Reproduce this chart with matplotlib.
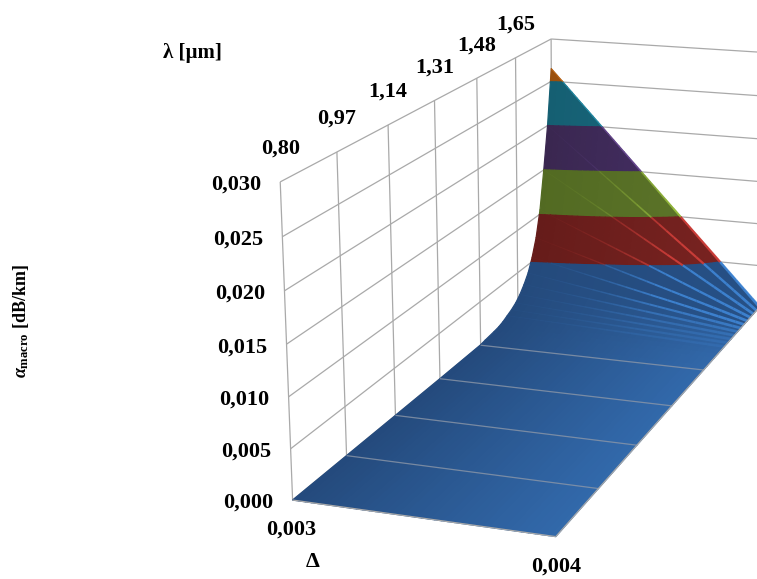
import numpy as np
import matplotlib
matplotlib.use("Agg")
from matplotlib import pyplot as plt
from matplotlib.colors import to_rgb
from mpl_toolkits.mplot3d import proj3d
from mpl_toolkits.mplot3d.art3d import Poly3DCollection, Line3DCollection

# values
wavelength = [0.80, 0.97, 1.14, 1.31, 1.48, 1.50, 1.54, 1.56, 1.58, 1.60, 1.62,
              1.64, 1.66, 1.68, 1.70, 1.72, 1.74, 1.76, 1.78, 1.80, 1.82]
alpha_d003 = [0.0, 0.0, 0.0, 0.0, 0.00005, 0.00015, 0.0003, 0.0004, 0.0006, 0.0009, 0.0012,
              0.0016, 0.0022, 0.003, 0.004, 0.0055, 0.0075, 0.0105, 0.015, 0.020, 0.0265]
alpha_d004 = [0.0] * len(wavelength)
delta_range = [0.003, 0.004]
wl_grid = [0.80, 0.97, 1.14, 1.31, 1.48, 1.65, 1.82]
wl_labels = ["0,80", "0,97", "1,14", "1,31", "1,48", "1,65"]
alpha_grid = [0.0, 0.005, 0.010, 0.015, 0.020, 0.025, 0.030]
alpha_labels = ["0,000", "0,005", "0,010", "0,015", "0,020", "0,025", "0,030"]

# colour of each 0.005 band, dark side and light side
band_dark = ["#244a7c", "#661c1a", "#526a22", "#3a2750", "#155f72", "#9a4f0c"]
band_light = ["#3269ab", "#7c2422", "#60782c", "#4a3270", "#1c6e85", "#a8580f"]
band_edge = ["#3f86d6", "#d23f3a", "#9cc23e", "#7a55a8", "#2aa5c4", "#d9781c"]
GRID = "#a9a9a9"

plt.rcParams["font.family"] = ["Liberation Serif", "DejaVu Serif"]
plt.rcParams["font.weight"] = "bold"
plt.rcParams["mathtext.fontset"] = "custom"
plt.rcParams["mathtext.rm"] = "Liberation Serif:bold"
plt.rcParams["mathtext.it"] = "Liberation Serif:italic:bold"
plt.rcParams["mathtext.bf"] = "Liberation Serif:bold"

W, H = 757, 579
fig = plt.figure(figsize=(W / 100, H / 100), dpi=100)
# square axes, one data unit is one pixel from the top left of the figure
ax = fig.add_axes([0, 1 - W / H, 1, W / H], projection="3d", computed_zorder=False)
ax.set_axis_off()
ax.set_xticks([])
ax.set_yticks([])
ax.set_zticks([])
ax.set_xlim3d(*delta_range)
ax.set_ylim3d(wl_grid[0], wl_grid[-1])
ax.set_zlim3d(alpha_grid[0], alpha_grid[-1])
ax.set_autoscale_on(False)
ax.viewLim.intervalx = (0, W)
ax.viewLim.intervaly = (W, 0)

# camera of the original 3D chart, fitted on the corners of its box
box = np.array([[0, 0, 0], [0, 0, 1], [1, 0, 0], [0, 1, 0], [0, 1, 1], [1, 1, 0], [1, 1, 1],
                [0, 1/6, 0], [0, 2/6, 0], [0, 3/6, 0], [0, 4/6, 0],
                [0, 1/6, 1], [0, 2/6, 1], [0, 3/6, 1], [0, 4/6, 1], [0, 5/6, 1],
                [0, 0, .5], [0, 1, .5], [1, 1, .5]])
seen = np.array([[292, 499], [278, 183], [556, 537], [551, 288], [550, 38], [762, 306], [762, 52],
                 [347, 455], [395, 415], [440, 378], [480, 344],
                 [337, 153], [388, 126], [436, 100], [479, 77], [518, 56],
                 [287, 345], [551, 167], [762, 183]]) / 1000
rows = []
for b, s in zip(box, seen):
    p = np.append(b, 1)
    rows.append(np.r_[p, 0 * p, -s[0] * p])
    rows.append(np.r_[0 * p, p, -s[1] * p])
P = np.linalg.svd(np.array(rows))[2][-1].reshape(3, 4)
if P[2, 3] < 0:
    P = -P
cam = np.array([P[0] * 1000, P[1] * 1000, [0, P[2, 3], 0, 0], P[2]])
world = proj3d.world_transformation(delta_range[0], delta_range[1], wl_grid[0], wl_grid[-1],
                                    alpha_grid[0], alpha_grid[-1])
M = cam @ world
ax.get_proj = lambda: M


def clip_z(poly, lo, hi):
    # cut a flat polygon to lo <= z <= hi
    for limit, sign in ((lo, 1), (hi, -1)):
        out = []
        for i in range(len(poly)):
            a, b = poly[i], poly[(i + 1) % len(poly)]
            da, db = sign * (a[2] - limit), sign * (b[2] - limit)
            if da >= 0:
                out.append(a)
            if da * db < 0:
                out.append(a + (b - a) * da / (da - db))
        poly = out
        if len(poly) < 3:
            return []
    return poly


def add_lines(segments, zorder, **kw):
    ax.add_collection3d(Line3DCollection(segments, zorder=zorder, **kw), autolim=False)


def label_at(x3, y3, z3, dx, dy, text, ha):
    # tick label at a fixed pixel distance from its projected tick
    x, y, _ = proj3d.proj_transform(x3, y3, z3, M)
    fig.text((x + dx) / W, 1 - (y + dy) / H, text, fontsize=size, ha=ha, va="center")


# walls
d0, d1 = delta_range
z0, z1 = alpha_grid[0], alpha_grid[-1]
wl0, wl1 = wl_grid[0], wl_grid[-1]
walls = []
for z in alpha_grid:
    walls.append([(d0, wl0, z), (d0, wl1, z)])
    walls.append([(d0, wl1, z), (d1, wl1, z)])
for wl in wl_grid:
    walls.append([(d0, wl, z0), (d0, wl, z1)])
add_lines(walls, 1, colors=GRID, linewidths=0.9)

# surface, straight between the two delta values
polys, colors = [], []
strips = np.linspace(0, 1, 41)
for i in range(len(wavelength) - 1):
    steep = min(1, alpha_d003[i + 1] / 0.006)
    for s0, s1 in zip(strips[:-1], strips[1:]):
        quad = []
        for j, s in ((i, s0), (i, s1), (i + 1, s1), (i + 1, s0)):
            a = alpha_d003[j] + (alpha_d004[j] - alpha_d003[j]) * s
            quad.append(np.array([d0 + (d1 - d0) * s, wavelength[j], a]))
        for b in range(len(band_dark)):
            piece = clip_z(quad, alpha_grid[b], alpha_grid[b + 1] if b < 5 else 1)
            if piece:
                c0, c1 = np.array(to_rgb(band_dark[b])), np.array(to_rgb(band_light[b]))
                if b == 0:
                    # the steep facets of the blue band stay dark up to the tip
                    c1 = c1 + (c0 - c1) * steep * 0.8
                polys.append(piece)
                colors.append(c0 + (c1 - c0) * (s0 + s1) / 2)
surface = Poly3DCollection(polys, facecolors=colors, edgecolors=colors, linewidths=0.9, zorder=2)
ax.add_collection3d(surface, autolim=False)

# mesh lines of the surface where it rises, stronger towards the right
mesh, mesh_colors, mesh_widths = [], [], []
for i in range(len(wavelength)):
    if alpha_d003[i] < 0.0009:
        continue
    a0, a1 = alpha_d003[i], alpha_d004[i]
    for b in range(len(band_edge)):
        top = min(a0, alpha_grid[b + 1])
        if top <= alpha_grid[b]:
            continue
        s_lo = (a0 - top) / (a0 - a1)
        s_hi = (a0 - alpha_grid[b]) / (a0 - a1)
        cuts = np.linspace(s_lo, s_hi, 2 + int((s_hi - s_lo) / 0.04))
        for s0, s1 in zip(cuts[:-1], cuts[1:]):
            s = (s0 + s1) / 2
            strength = min(1, s / 0.6) ** 2 * min(1, a0 / 0.005)
            if i == len(wavelength) - 1:
                strength = max(strength, 0.7)
            mesh.append([(d0 + (d1 - d0) * s0, wavelength[i], a0 + (a1 - a0) * s0),
                         (d0 + (d1 - d0) * s1, wavelength[i], a0 + (a1 - a0) * s1)])
            mesh_colors.append(to_rgb(band_edge[b]) + (0.05 + 0.85 * strength,))
            mesh_widths.append(0.5 + 1.5 * s)
add_lines(mesh, 3, colors=mesh_colors, linewidths=mesh_widths)

# floor gridlines seen across the flat part, and its front edge
add_lines([[(d0, wl, z0), (d1, wl, z0)] for wl in wl_grid[1:5]], 3,
          colors="#8c97a8", linewidths=0.9, alpha=0.8)
add_lines([[(d0, wl0, z0), (d1, wl0, z0)], [(d1, wl0, z0), (d1, wl1, z0)]], 3,
          colors=GRID, linewidths=0.9)

# labels
size = 16
for wl, text in zip(wl_grid, wl_labels):
    label_at(d0, wl, z1, 0, -33, text, "center")
for z, text in zip(alpha_grid, alpha_labels):
    label_at(d0, wl0, z, -19, 3, text, "right")
fig.text(291 / W, 1 - 530 / H, "0,003", fontsize=size, ha="center", va="center")
fig.text(556 / W, 1 - 567 / H, "0,004", fontsize=size, ha="center", va="center")
fig.text(313 / W, 1 - 562 / H, "Δ", fontsize=size, ha="center", va="center")
fig.text(192 / W, 1 - 53 / H, "λ [µm]", fontsize=15, ha="center", va="center")
fig.text(21 / W, 1 - 321 / H, r"$\mathit{α}_{\mathrm{macro}}$ [dB/km]", fontsize=13,
         rotation=90, ha="center", va="center")

fig.savefig("out.png", dpi=100)
